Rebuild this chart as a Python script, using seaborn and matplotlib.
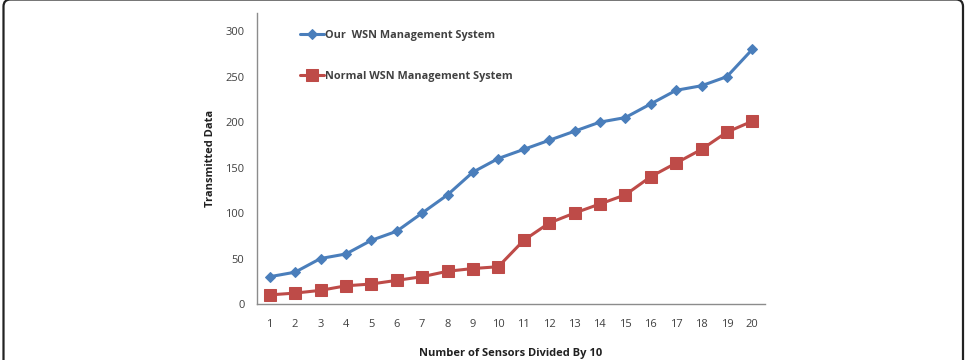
import matplotlib
matplotlib.use("Agg")
import matplotlib.pyplot as plt
import seaborn as sns
import pandas as pd
from matplotlib.patches import FancyBboxPatch

sensors = list(range(1, 21))
our_wsn = [30, 35, 50, 55, 70, 80, 100, 120, 145, 160, 170, 180, 190, 200, 205, 220, 235, 240, 250, 280]
normal_wsn = [10, 12, 15, 20, 22, 26, 30, 36, 39, 41, 70, 89, 100, 110, 120, 140, 155, 170, 189, 201]
series_names = ["Our  WSN Management System", "Normal WSN Management System"]
y_ticks = [0, 50, 100, 150, 200, 250, 300]

df = pd.DataFrame({
    "x": sensors * 2,
    "y": our_wsn + normal_wsn,
    "series": [series_names[0]] * len(sensors) + [series_names[1]] * len(sensors),
})

sns.set_style("white")
plt.rcParams["font.family"] = ["Open Sans", "DejaVu Sans"]

fig = plt.figure(figsize=(9.69, 3.6), dpi=100)
ax = fig.add_axes([257 / 969, (360 - 304) / 360, (765 - 257) / 969, (304 - 13) / 360])

palette = {series_names[0]: "#4A7EBB", series_names[1]: "#BE4B48"}
markers = {series_names[0]: "D", series_names[1]: "s"}
sizes_map = {series_names[0]: 5.5, series_names[1]: 8}

for name in series_names:
    sub = df[df["series"] == name]
    sns.lineplot(data=sub, x="x", y="y", ax=ax, color=palette[name], marker=markers[name],
                 markersize=sizes_map[name], markeredgecolor=palette[name], linewidth=2.2,
                 label=name, legend=True)

ax.set_xlim(0.5, 20.5)
ax.set_ylim(0, 320)
ax.set_xticks(sensors)
ax.set_xticklabels([str(s) for s in sensors])
ax.set_yticks(y_ticks)
ax.set_xticks([0.5, 10.5, 20.5], minor=True)

for s in ["top", "right"]:
    ax.spines[s].set_visible(False)
for s in ["left", "bottom"]:
    ax.spines[s].set_color("#8C8C8C")
    ax.spines[s].set_linewidth(1.0)

ax.tick_params(axis="x", which="major", length=0, pad=11, labelsize=8, labelcolor="#404040")
ax.tick_params(axis="x", which="minor", length=4, direction="out", color="#8C8C8C")
ax.tick_params(axis="y", which="major", length=4, direction="out", color="#8C8C8C",
               labelsize=8, labelcolor="#404040", pad=5)

ax.set_xlabel("Number of Sensors Divided By 10", fontsize=8, fontweight="bold", color="#202020", labelpad=13)
ax.set_ylabel("Transmitted Data", fontsize=8, fontweight="bold", color="#202020", labelpad=7)

leg = ax.legend(loc="upper left", bbox_to_anchor=(0.065, 0.975), frameon=False,
                labelspacing=2.75, handlelength=2.2, handletextpad=0.1, prop={"size": 7.8, "weight": "bold"})
for t in leg.get_texts():
    t.set_color("#404040")

frame = FancyBboxPatch((3.5, -30), 959.5, 390.5, boxstyle="round,pad=0,rounding_size=7",
                       transform=None, fill=False, edgecolor="#222222", linewidth=1.6)
fig.patches.append(frame)

fig.savefig("out.png", dpi=100)
